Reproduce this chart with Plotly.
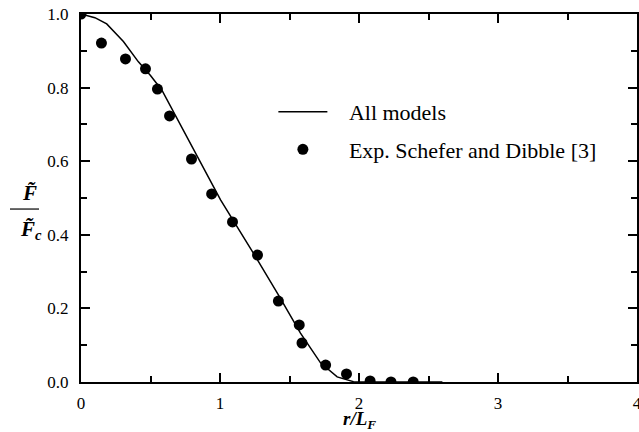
import plotly.graph_objects as go

# Model curve ("All models")
model_x = [0.0, 0.1, 0.185, 0.305, 0.413, 0.5, 0.582, 0.7, 0.853, 1.004, 1.25, 1.42, 1.579, 1.723, 1.843, 1.96, 2.1, 2.6]
model_y = [1.0, 0.99, 0.973, 0.925, 0.870, 0.833, 0.793, 0.710, 0.601, 0.495, 0.344, 0.237, 0.133, 0.052, 0.014, 0.001, 0.0, 0.0]

# Experimental data (Schefer and Dibble [3])
exp_x = [0.0, 0.147, 0.32, 0.464, 0.55, 0.637, 0.795, 0.94, 1.09, 1.27, 1.42, 1.57, 1.59, 1.76, 1.91, 2.08, 2.23, 2.39]
exp_y = [1.0, 0.921, 0.878, 0.851, 0.796, 0.723, 0.606, 0.511, 0.435, 0.345, 0.22, 0.155, 0.106, 0.046, 0.022, 0.003, 0.0, 0.0]

x_ticks = [0, 1, 2, 3, 4]
y_ticks = [0.0, 0.2, 0.4, 0.6, 0.8, 1.0]

serif = "Liberation Serif"
pad = "\u00a0" * 3

fig = go.Figure()
fig.add_trace(go.Scatter(
    x=model_x, y=model_y, mode="lines", name=pad + "All models",
    line=dict(color="black", width=1.5), legendgroup="a",
))
fig.add_trace(go.Scatter(
    x=exp_x, y=exp_y, mode="markers", name=pad + "Exp. Schefer and Dibble [3]",
    marker=dict(color="black", size=11), legendgroup="b",
))

axis_common = dict(
    showline=True, linecolor="black", linewidth=2, mirror="allticks",
    ticks="inside", ticklen=9, tickwidth=1.5, tickcolor="black",
    showgrid=False, zeroline=False, automargin=False,
    tickfont=dict(family=serif, size=17, color="black"),
)

fig.update_xaxes(
    range=[0, 4], tickvals=x_ticks, ticktext=[str(v) for v in x_ticks],
    minor=dict(ticks="inside", ticklen=6, tickwidth=1.5, tickcolor="black", dtick=0.5, tick0=0),
    ticklabeloverflow="allow", ticklabelstandoff=5,
    **axis_common,
)
fig.update_yaxes(
    range=[0, 1.0], tickvals=y_ticks, ticktext=[f"{v:.1f}" for v in y_ticks],
    minor=dict(ticks="inside", ticklen=6, tickwidth=1.5, tickcolor="black", dtick=0.1, tick0=0),
    ticklabelstandoff=7,
    **axis_common,
)

fig.add_annotation(text="<b><i>r/L<sub>F</sub></i></b>", xref="paper", yref="paper", x=0.5, y=-0.102,
                   yanchor="middle", showarrow=False, font=dict(family=serif, size=19, color="black"))
fig.add_annotation(text="<b><i>F\u0303</i></b>", xref="paper", yref="paper", x=-0.11, y=0.514,
                   showarrow=False, font=dict(family=serif, size=21, color="black"))
fig.add_annotation(text="<b><i>F\u0303<sub>c</sub></i></b>", xref="paper", yref="paper", x=-0.114, y=0.412,
                   showarrow=False, font=dict(family=serif, size=21, color="black"))
fig.add_shape(type="line", xref="paper", yref="paper", x0=-0.1277, x1=-0.0755, y0=0.470, y1=0.470,
              line=dict(color="black", width=1.2))

fig.update_layout(
    width=639, height=432,
    margin=dict(l=81, r=2, t=14, b=50, autoexpand=False),
    plot_bgcolor="white", paper_bgcolor="white",
    font=dict(family=serif, color="black"),
    showlegend=True,
    legend=dict(
        x=0.346, y=0.791, xanchor="left", yanchor="top",
        font=dict(family=serif, size=22, color="black"),
        bgcolor="rgba(0,0,0,0)", traceorder="grouped", tracegroupgap=6,
        itemwidth=49,
    ),
)

fig.write_html("out.html", config={"displayModeBar": False},
               post_script="document.body.style.margin='0';")
